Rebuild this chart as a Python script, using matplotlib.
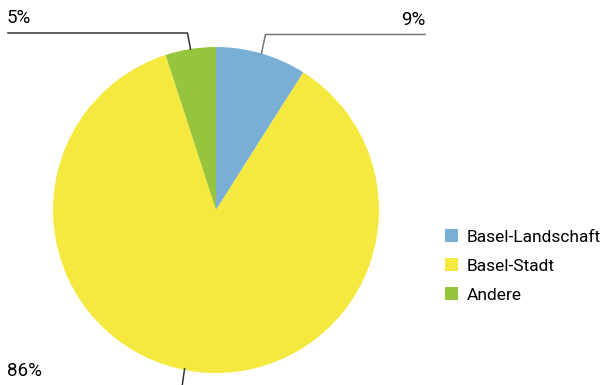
import numpy as np
import matplotlib.pyplot as plt
from matplotlib.patches import Patch

# data
labels = ['Basel-Landschaft', 'Basel-Stadt', 'Andere']
shares = [9, 86, 5]
colors = ['#7aafd5', '#f5e83f', '#96c43c']

plt.rcParams['font.family'] = ['Roboto', 'DejaVu Sans']

W, H = 606, 385
fig = plt.figure(figsize=(W / 100, H / 100), dpi=100)
ax = fig.add_axes([0, 0, 1, 1])

cx, cy, r = 216, H - 210, 163
wedges, _ = ax.pie(shares, colors=colors, startangle=90, counterclock=False,
                   center=(cx, cy), radius=r, frame=True,
                   wedgeprops=dict(linewidth=0))
ax.set_xlim(0, W)
ax.set_ylim(0, H)
ax.set_aspect('equal')
ax.axis('off')

# leader lines
leaders = {
    0: dict(elbow_dy=19, dx=4, end_x=425, text_x=425, ha='right', ty=H - 20, lc='#777777'),
    2: dict(elbow_dy=16, dx=-3, end_x=8, text_x=7, ha='left', ty=H - 18, lc='#333333'),
}
for i, w in enumerate(wedges):
    mid = np.deg2rad((w.theta1 + w.theta2) / 2)
    x0 = cx + r * np.cos(mid)
    y0 = cy + r * np.sin(mid)
    if i in leaders:
        d = leaders[i]
        ey = y0 + d['elbow_dy']
        ex = x0 + d['dx']
        ax.plot([x0, ex, d['end_x']], [y0, ey, ey], color=d['lc'], lw=1.1,
                solid_joinstyle='miter')
        ax.text(d['text_x'], d['ty'], f'{shares[i]}%', ha=d['ha'], va='center',
                fontsize=13.5)
    else:
        ax.plot([x0 - 11, x0 - 14], [y0 + 3, -5], color='#333333', lw=1.1)
        ax.text(7, H - 371, f'{shares[i]}%', ha='left', va='center', fontsize=13.5)

handles = [Patch(facecolor=c, edgecolor='none') for c in colors]
fig.legend(handles, labels, loc='center left', bbox_to_anchor=(436 / W, 1 - 266 / H),
           frameon=False, fontsize=12.5, handlelength=0.75, handleheight=0.75,
           handletextpad=0.5, labelspacing=0.78, borderpad=0)

fig.savefig('out.png', dpi=100)
